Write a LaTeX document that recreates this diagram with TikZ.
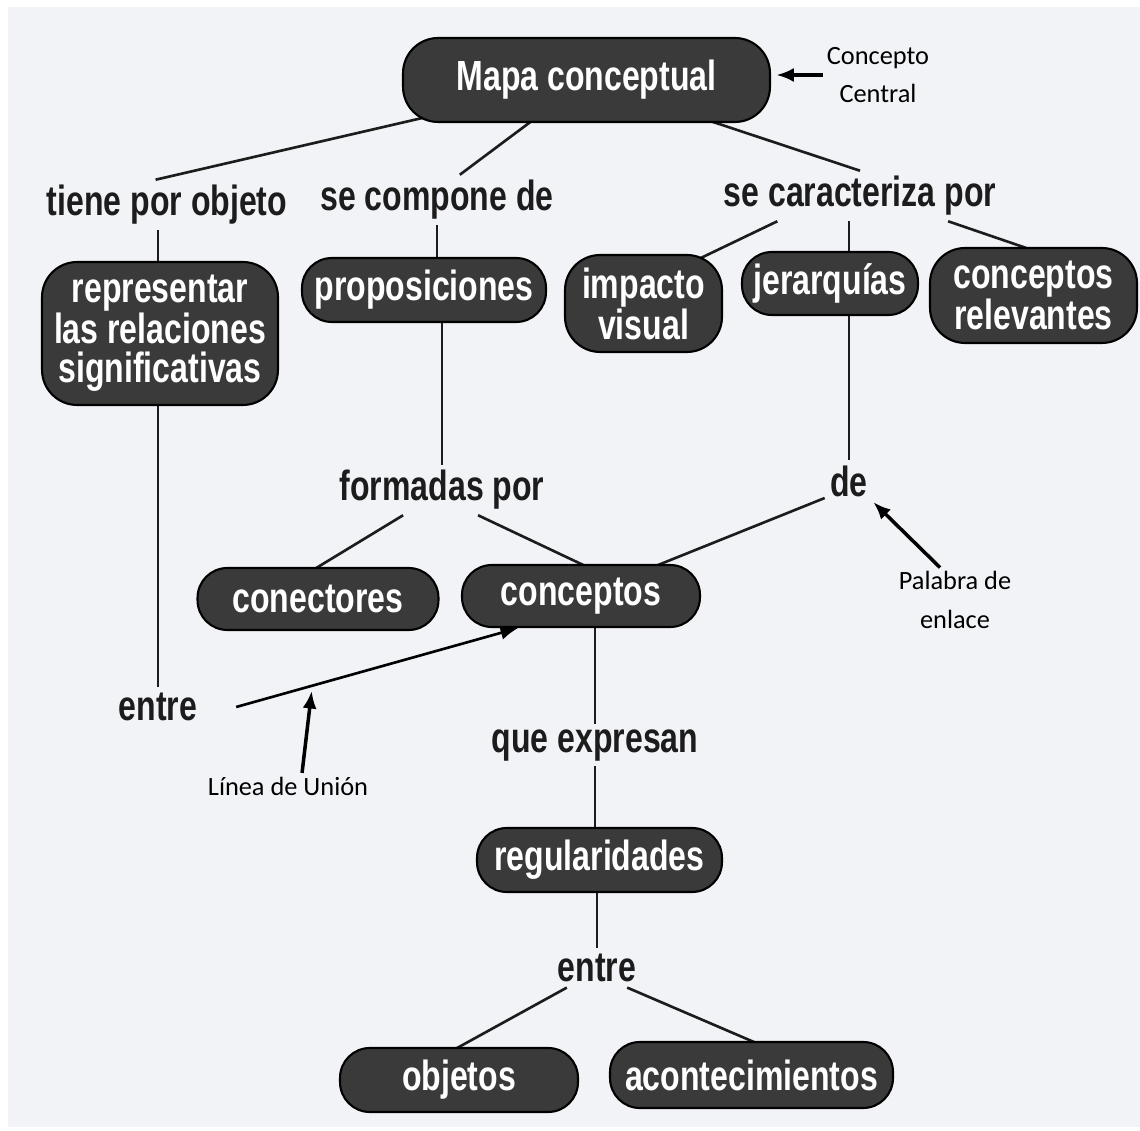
\documentclass[tikz,border=0pt]{standalone}
\usepackage{fontspec}
\usepackage{tikz}
\usetikzlibrary{arrows.meta}
\usetikzlibrary{backgrounds}
\newfontfamily\condensada{Liberation Sans}[FakeStretch=0.76]
\newfontfamily\notafont{Carlito}
\definecolor{fondo}{RGB}{242, 243, 247}
\definecolor{nodo}{RGB}{58, 58, 58}
\definecolor{tinta}{RGB}{28, 28, 28}

\tikzset{
  concepto/.style={rectangle, rounded corners=17pt, draw=black, line width=1.2pt, fill=nodo,
                   text=white, align=center, inner sep=0pt,
                   font=\condensada\bfseries\fontsize{24}{19.5}\selectfont},
  varias/.style={rounded corners=20pt, font=\condensada\bfseries\fontsize{24}{22}\selectfont},
  enlace/.style={text=tinta, inner sep=3pt, font=\condensada\bfseries\fontsize{24}{19.5}\selectfont},
  nota/.style={text=black, align=center, inner sep=2pt, font=\notafont\fontsize{15}{22}\selectfont},
  linea/.style={draw=tinta, line width=1.5pt, shorten >=-8pt},
  flecha/.style={draw=black, line width=2pt, -{Latex[length=10pt,width=8pt]}}
}

\begin{document}
\begin{tikzpicture}[x=0.02cm, y=-0.02cm]
            \useasboundingbox (0,0) rectangle (1140,1131);
            % conceptos
            \node[concepto, minimum width=7.34cm, minimum height=1.68cm, rounded corners=20pt] (mapa)       at (586.5,  80)  {Mapa conceptual};
            \node[concepto, varias, minimum width=4.72cm, minimum height=2.86cm]               (repr)       at (160,  333.5) {representar\\las relaciones\\significativas};
            \node[concepto, minimum width=4.88cm, minimum height=1.28cm]                       (prop)       at (424,  290)   {proposiciones};
            \node[concepto, varias, minimum width=3.14cm, minimum height=1.94cm]               (impacto)    at (643.5, 303.5) {impacto\\visual};
            \node[concepto, minimum width=3.52cm, minimum height=1.26cm]                       (jerarq)     at (830,  283.5) {jerarquías};
            \node[concepto, varias, minimum width=4.14cm, minimum height=1.90cm]               (relev)      at (1033.5, 295.5) {conceptos\\relevantes};
            \node[concepto, minimum width=4.82cm, minimum height=1.24cm]                       (conectores) at (318,  599)   {conectores};
            \node[concepto, minimum width=4.76cm, minimum height=1.24cm]                       (conceptos)  at (581,  596)   {conceptos};
            \node[concepto, minimum width=4.90cm, minimum height=1.28cm]                       (regul)      at (599.5, 860)  {regularidades};
            \node[concepto, minimum width=4.76cm, minimum height=1.28cm]                       (objetos)    at (459, 1080)   {objetos};
            \node[concepto, minimum width=5.66cm, minimum height=1.32cm]                       (aconte)     at (751.5, 1075) {acontecimientos};
            % palabras de enlace
            \node[enlace] (tiene)    at (167, 205) {tiene por objeto};
            \node[enlace] (compone)  at (437, 200) {se compone de};
            \node[enlace] (caract)   at (860, 196) {se caracteriza por};
            \node[enlace] (formadas) at (442, 490) {formadas por};
            \node[enlace] (de)       at (849, 481) {de};
            \node[enlace] (entre1)   at (158, 707) {entre};
            \node[enlace] (quex)     at (595, 745) {que expresan};
            \node[enlace] (entre2)   at (597, 968) {entre};
            % notas
            \node[nota] (cc) at (878,  75) {Concepto\\Central};
            \node[nota] (pe) at (955, 600) {Palabra de\\enlace};
            \node[nota] (lu) at (288, 786) {Línea de Unión};
            \begin{scope}[on background layer]
                \fill[white] (0,0) rectangle (1140,1131);
                \fill[fondo] (8,7) rectangle (1140,1127);
                \draw[linea] ([xshift=-6.5pt]tiene.north) -- (mapa.center);
                \draw[linea] ([xshift=13pt]compone.north) -- (mapa.center);
                \draw[linea] (caract.north) -- (mapa.center);
                \draw[linea] (tiene.south -| entre1) -- (repr -| entre1);
                \draw[linea] (entre1.north) -- (repr -| entre1);
                \draw[linea] (compone.south) -- (compone.south |- prop);
                \draw[linea] (formadas.north) -- (formadas.north |- prop);
                \draw[linea] (caract.197) -- (impacto.37);
                \draw[linea] (de.north |- caract.south) -- (de.north |- jerarq);
                \draw[linea] (de.north) -- (de.north |- jerarq);
                \draw[linea] (caract.344) -- (relev.102);
                \draw[linea] (formadas.213) -- (conectores.north);
                \draw[linea] (formadas.325) -- (conceptos.north);
                \draw[linea] (de.215) -- (conceptos.center);
                \draw[linea] (quex.north) -- (quex.north |- conceptos);
                \draw[linea] (quex.south) -- (quex.south |- regul);
                \draw[linea] (entre2.north) -- (entre2.north |- regul);
                \draw[linea] (entre2.213) -- (objetos.north);
                \draw[linea] (entre2.327) -- (aconte.north);
            \end{scope}
            % flechas
            \draw[flecha, line width=1.5pt] ([xshift=19pt]entre1.east) -- coordinate[pos=0.27] (union) (conceptos.207);
            \draw[flecha, shorten >=3pt] (cc.west) -- (cc.west -| mapa.east);
            \draw[flecha] ([xshift=-8.5pt]pe.north) -- (de.south east);
            \draw[flecha, shorten >=3pt] ([xshift=8pt]lu.north) -- (union);
        \end{tikzpicture}
\end{document}
